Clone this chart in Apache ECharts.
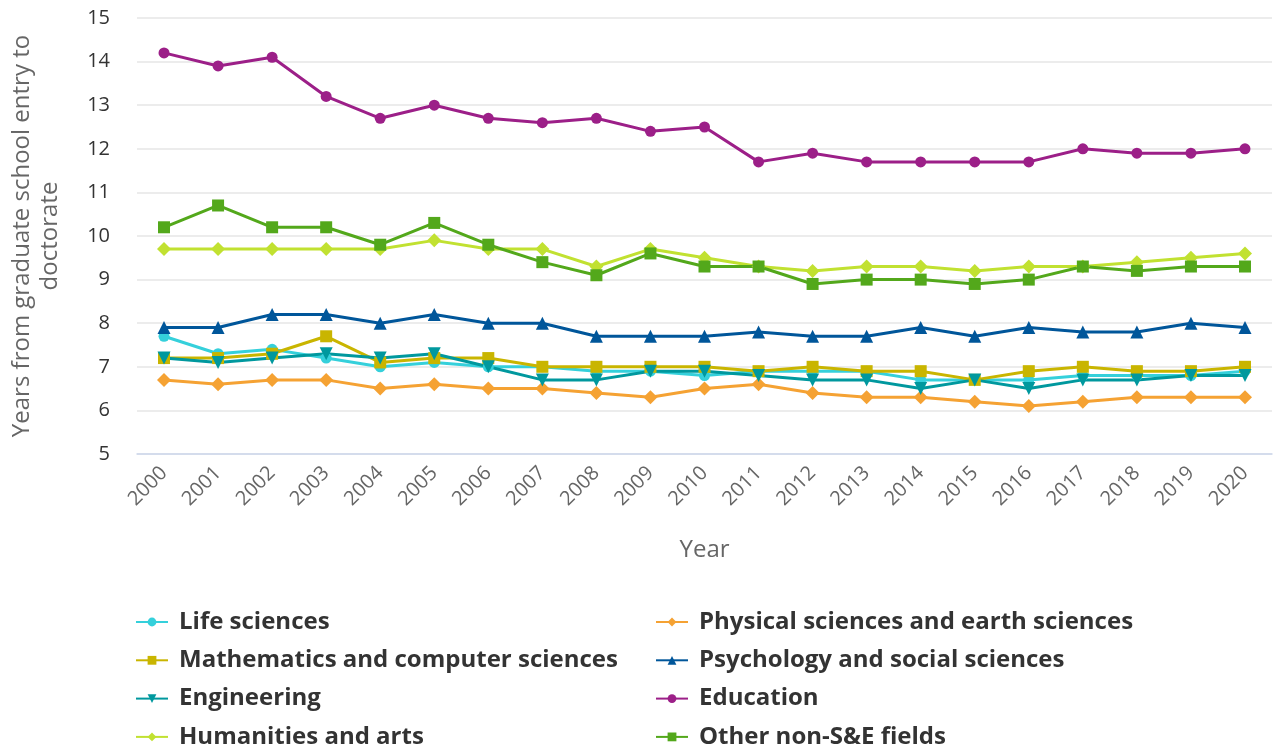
<!DOCTYPE html>
<html>
<head>
<meta charset="utf-8">
<script src="https://cdn.jsdelivr.net/npm/echarts@6/dist/echarts.min.js"></script>
<style>
html,body{margin:0;padding:0;background:#fff;}
#chart{width:1273px;height:750px;}
</style>
</head>
<body>
<div id="chart"></div>
<script>
const years = ['2000','2001','2002','2003','2004','2005','2006','2007','2008','2009','2010','2011','2012','2013','2014','2015','2016','2017','2018','2019','2020'];
const yTicks = [5,6,7,8,9,10,11,12,13,14,15];

const lifeSciences   = [7.7,7.3,7.4,7.2,7.0,7.1,7.0,7.0,6.9,6.9,6.8,6.9,6.9,6.9,6.7,6.7,6.7,6.8,6.8,6.8,6.9];
const physicalEarth  = [6.7,6.6,6.7,6.7,6.5,6.6,6.5,6.5,6.4,6.3,6.5,6.6,6.4,6.3,6.3,6.2,6.1,6.2,6.3,6.3,6.3];
const mathComputer   = [7.2,7.2,7.3,7.7,7.1,7.2,7.2,7.0,7.0,7.0,7.0,6.9,7.0,6.9,6.9,6.7,6.9,7.0,6.9,6.9,7.0];
const psychSocial    = [7.9,7.9,8.2,8.2,8.0,8.2,8.0,8.0,7.7,7.7,7.7,7.8,7.7,7.7,7.9,7.7,7.9,7.8,7.8,8.0,7.9];
const engineering    = [7.2,7.1,7.2,7.3,7.2,7.3,7.0,6.7,6.7,6.9,6.9,6.8,6.7,6.7,6.5,6.7,6.5,6.7,6.7,6.8,6.8];
const education      = [14.2,13.9,14.1,13.2,12.7,13.0,12.7,12.6,12.7,12.4,12.5,11.7,11.9,11.7,11.7,11.7,11.7,12.0,11.9,11.9,12.0];
const humanitiesArts = [9.7,9.7,9.7,9.7,9.7,9.9,9.7,9.7,9.3,9.7,9.5,9.3,9.2,9.3,9.3,9.2,9.3,9.3,9.4,9.5,9.6];
const otherNonSE     = [10.2,10.7,10.2,10.2,9.8,10.3,9.8,9.4,9.1,9.6,9.3,9.3,8.9,9.0,9.0,8.9,9.0,9.3,9.2,9.3,9.3];

const seriesDefs = [
  {name:'Life sciences', data:lifeSciences, color:'#35d0db', symbol:'circle', size:11, rot:0},
  {name:'Physical sciences and earth sciences', data:physicalEarth, color:'#f5a233', symbol:'diamond', size:14, rot:0},
  {name:'Mathematics and computer sciences', data:mathComputer, color:'#c9b500', symbol:'rect', size:12, rot:0},
  {name:'Psychology and social sciences', data:psychSocial, color:'#00569a', symbol:'triangle', size:13, rot:0},
  {name:'Engineering', data:engineering, color:'#00989e', symbol:'triangle', size:13, rot:180},
  {name:'Education', data:education, color:'#9c1f88', symbol:'circle', size:11, rot:0},
  {name:'Humanities and arts', data:humanitiesArts, color:'#c1e131', symbol:'diamond', size:14, rot:0},
  {name:'Other non-S&E fields', data:otherNonSE, color:'#53a81b', symbol:'rect', size:12, rot:0}
];

const font = '"Open Sans", sans-serif';
const chart = echarts.init(document.getElementById('chart'), null, {renderer:'canvas'});

const legendCommon = {
  orient:'vertical', itemGap:14.3, itemWidth:32, itemHeight:11, padding:0,
  textStyle:{fontFamily:font, fontSize:24, fontWeight:'bold', color:'#333', lineHeight:24, padding:[0,0,0,6]}
};

chart.setOption({
  animation:false,
  backgroundColor:'#fff',
  textStyle:{fontFamily:font},
  grid:{left:133, right:1, top:18, bottom:296, containLabel:false},
  legend:[
    Object.assign({}, legendCommon, {left:135, top:610, data:['Life sciences','Mathematics and computer sciences','Engineering','Humanities and arts']}),
    Object.assign({}, legendCommon, {left:655, top:610, data:['Physical sciences and earth sciences','Psychology and social sciences','Education','Other non-S&E fields']})
  ],
  xAxis:{
    type:'category', data:years, boundaryGap:true,
    name:'Year', nameLocation:'middle', nameGap:84,
    nameTextStyle:{fontFamily:font, fontSize:24, color:'#666'},
    axisLine:{lineStyle:{color:'#ccd6eb', width:1.5}},
    axisTick:{alignWithLabel:true, length:18, lineStyle:{color:'#ccd6eb', width:1.5}},
    axisLabel:{rotate:45, margin:16, fontFamily:font, fontSize:20, color:'#666', interval:0},
    splitLine:{show:false}
  },
  yAxis:{
    type:'value', min:yTicks[0], max:yTicks[yTicks.length-1], interval:1,
    name:'Years from graduate school entry to\ndoctorate', nameLocation:'middle', nameGap:73,
    nameTextStyle:{fontFamily:font, fontSize:24, color:'#666', lineHeight:28},
    axisLine:{show:false}, axisTick:{show:false},
    axisLabel:{margin:27, fontFamily:font, fontSize:20, color:'#333'},
    splitLine:{lineStyle:{color:'#e6e6e6', width:1.5}}
  },
  series: seriesDefs.map(s => ({
    name:s.name, type:'line', data:s.data,
    symbol:s.symbol, symbolSize:s.size, symbolRotate:s.rot, showSymbol:true,
    itemStyle:{color:s.color},
    lineStyle:{color:s.color, width:3},
    emphasis:{disabled:true}
  }))
});
</script>
</body>
</html>
